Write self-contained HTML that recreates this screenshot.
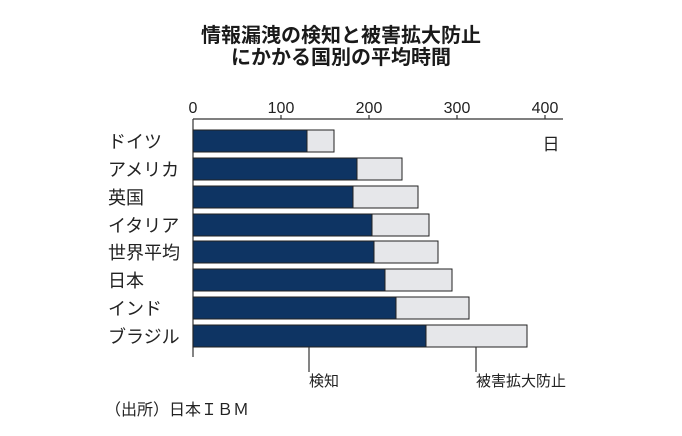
<!DOCTYPE html>
<html><head><meta charset="utf-8"><style>
body{margin:0;background:#fff;}
svg{display:block;font-family:"Liberation Sans","Noto Sans CJK JP",sans-serif;}
</style></head><body>
<svg width="682" height="436" viewBox="0 0 682 436">
<text x="341" y="42" text-anchor="middle" font-size="20" font-weight="bold" fill="#1a1a1a">情報漏洩の検知と被害拡大防止</text>
<text x="341" y="64" text-anchor="middle" font-size="20" font-weight="bold" fill="#1a1a1a">にかかる国別の平均時間</text>
<g font-size="16" fill="#222" text-anchor="middle">
<text x="193" y="113">0</text><text x="281" y="113">100</text><text x="369" y="113">200</text><text x="457" y="113">300</text><text x="545" y="113">400</text>
</g>
<line x1="193" y1="119" x2="563" y2="119" stroke="#333" stroke-width="1.2"/>
<g stroke="#333" stroke-width="1.2"><line x1="281" y1="115" x2="281" y2="119"/><line x1="369" y1="115" x2="369" y2="119"/><line x1="457" y1="115" x2="457" y2="119"/><line x1="545" y1="115" x2="545" y2="119"/></g>
<line x1="193" y1="119" x2="193" y2="357" stroke="#333" stroke-width="1.2"/>
<text x="551" y="150" font-size="17" fill="#222" text-anchor="middle">日</text>
<g stroke="#222" stroke-width="1">
<rect x="193" y="130" width="141" height="22" fill="#e6e7ea"/><rect x="193" y="130" width="114" height="22" fill="#0e3463"/>
<rect x="193" y="158" width="209" height="22" fill="#e6e7ea"/><rect x="193" y="158" width="164" height="22" fill="#0e3463"/>
<rect x="193" y="186" width="225" height="22" fill="#e6e7ea"/><rect x="193" y="186" width="160" height="22" fill="#0e3463"/>
<rect x="193" y="214" width="236" height="22" fill="#e6e7ea"/><rect x="193" y="214" width="179" height="22" fill="#0e3463"/>
<rect x="193" y="241" width="245" height="22" fill="#e6e7ea"/><rect x="193" y="241" width="181" height="22" fill="#0e3463"/>
<rect x="193" y="269" width="259" height="22" fill="#e6e7ea"/><rect x="193" y="269" width="192" height="22" fill="#0e3463"/>
<rect x="193" y="297" width="276" height="22" fill="#e6e7ea"/><rect x="193" y="297" width="203" height="22" fill="#0e3463"/>
<rect x="193" y="325" width="334" height="22" fill="#e6e7ea"/><rect x="193" y="325" width="233" height="22" fill="#0e3463"/>
</g>
<g font-size="18" fill="#222">
<text x="108" y="148">ドイツ</text><text x="108" y="176">アメリカ</text><text x="108" y="204">英国</text><text x="108" y="232">イタリア</text><text x="108" y="259">世界平均</text><text x="108" y="287">日本</text><text x="108" y="315">インド</text><text x="108" y="343">ブラジル</text>
</g>
<line x1="309" y1="347" x2="309" y2="372" stroke="#333" stroke-width="1.2"/>
<line x1="476" y1="347" x2="476" y2="372" stroke="#333" stroke-width="1.2"/>
<text x="309" y="386" font-size="15" fill="#222">検知</text>
<text x="476" y="386" font-size="15" fill="#222">被害拡大防止</text>
<text x="105" y="415" font-size="16" fill="#222">（出所）日本ＩＢＭ</text>
</svg>
</body></html>
